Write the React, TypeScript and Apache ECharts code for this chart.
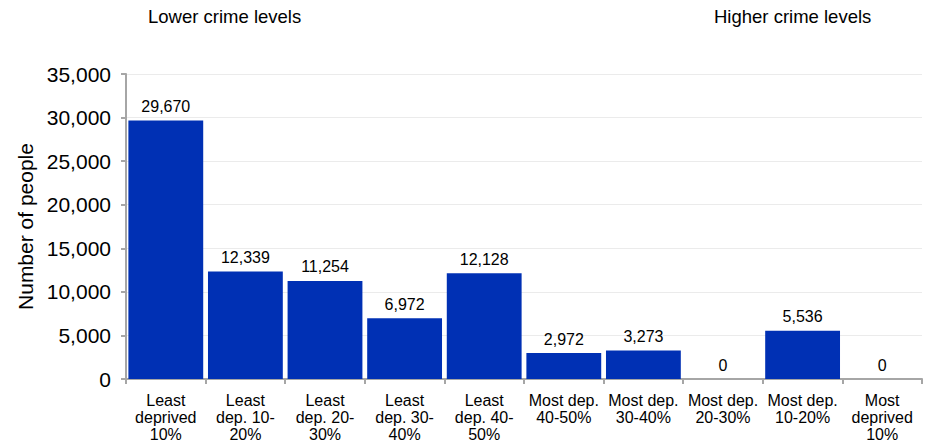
import React, { useEffect, useRef } from "react";
import * as echarts from "echarts";

const categories = [
  "Least\ndeprived\n10%",
  "Least\ndep. 10-\n20%",
  "Least\ndep. 20-\n30%",
  "Least\ndep. 30-\n40%",
  "Least\ndep. 40-\n50%",
  "Most dep.\n40-50%",
  "Most dep.\n30-40%",
  "Most dep.\n20-30%",
  "Most dep.\n10-20%",
  "Most\ndeprived\n10%",
];
const values = [29670, 12339, 11254, 6972, 12128, 2972, 3273, 0, 5536, 0];
const yTicks = { min: 0, max: 35000, interval: 5000 };
const topLeftNote = "Lower crime levels";
const topRightNote = "Higher crime levels";
const yAxisTitle = "Number of people";

const FONT = "'Liberation Sans', Arial, Helvetica, sans-serif";

export default function App() {
  const ref = useRef<HTMLDivElement>(null);
  useEffect(() => {
    if (!ref.current) return;
    const chart = echarts.init(ref.current, undefined, { renderer: "svg" });
    chart.setOption({
      animation: false,
      backgroundColor: "#ffffff",
      textStyle: { fontFamily: FONT },
      grid: { left: 126, right: 6, top: 74, bottom: 65, containLabel: false },
      graphic: [
        {
          type: "text",
          left: 148,
          top: 7,
          style: { text: topLeftNote, fontSize: 18.5, fontFamily: FONT, fill: "#000" },
        },
        {
          type: "text",
          left: 714,
          top: 7,
          style: { text: topRightNote, fontSize: 18.5, fontFamily: FONT, fill: "#000" },
        },
      ],
      xAxis: {
        type: "category",
        data: categories,
        axisLine: { show: true, lineStyle: { color: "#a6a6a6", width: 2 } },
        axisTick: { show: true, length: 5, lineStyle: { color: "#a6a6a6", width: 2 } },
        axisLabel: {
          interval: 0,
          fontSize: 16,
          lineHeight: 17,
          color: "#000",
          margin: 13,
          fontFamily: FONT,
        },
      },
      yAxis: {
        type: "value",
        min: yTicks.min,
        max: yTicks.max,
        interval: yTicks.interval,
        name: yAxisTitle,
        nameLocation: "middle",
        nameGap: 86,
        nameTextStyle: { fontSize: 21, color: "#000", fontFamily: FONT },
        axisLine: { show: true, lineStyle: { color: "#a6a6a6", width: 2 } },
        axisTick: { show: true, length: 5, lineStyle: { color: "#a6a6a6", width: 2 } },
        axisLabel: {
          fontSize: 21,
          color: "#000",
          margin: 15,
          fontFamily: FONT,
          formatter: (v: number) => v.toLocaleString("en-US"),
        },
        splitLine: { show: true, lineStyle: { color: "#ebebeb", width: 1 } },
      },
      series: [
        {
          type: "bar",
          data: values,
          barCategoryGap: "6%",
          itemStyle: { color: "#0030B4" },
          label: {
            show: true,
            position: "top",
            distance: 6,
            fontSize: 16,
            color: "#000",
            fontFamily: FONT,
            formatter: (p: any) => Number(p.value).toLocaleString("en-US"),
          },
        },
      ],
    });
    return () => chart.dispose();
  }, []);
  return (
    <div
      ref={ref}
      style={{ position: "fixed", left: 0, top: 0, width: 928, height: 444 }}
    />
  );
}
